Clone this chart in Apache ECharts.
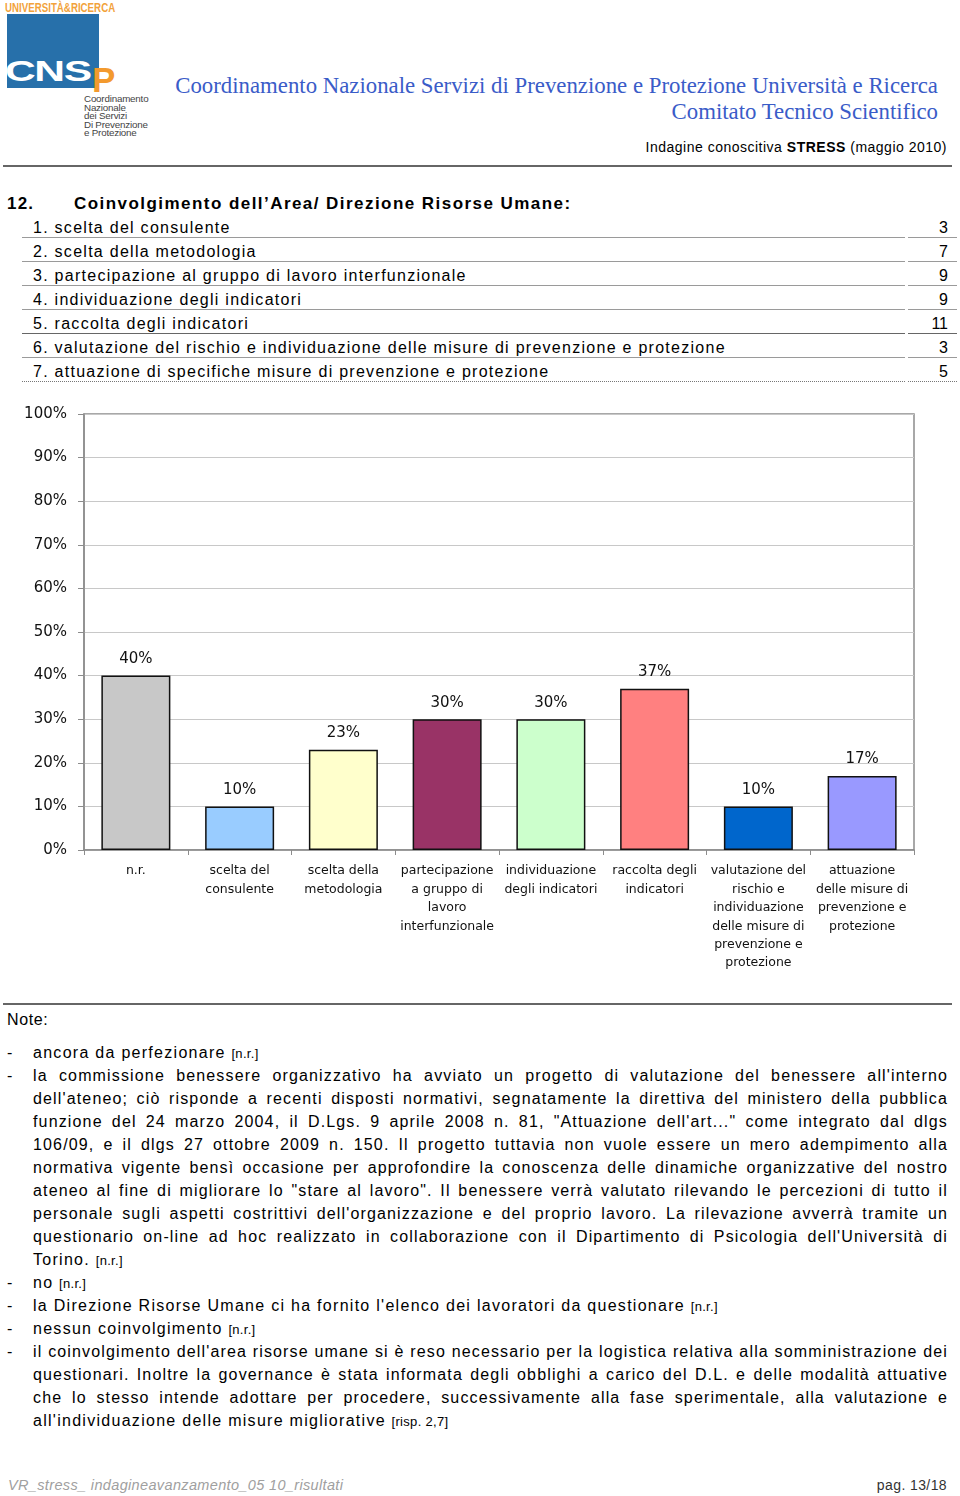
<!DOCTYPE html>
<html>
<head>
<meta charset="utf-8">
<script src="https://cdn.jsdelivr.net/npm/echarts@6/dist/echarts.min.js"></script>
<style>
  html, body { margin:0; padding:0; background:#fff; }
  body { width:960px; height:1496px; position:relative; overflow:hidden; font-family:"Liberation Sans", Arial, sans-serif; color:#000; }
  .abs { position:absolute; white-space:nowrap; }
  .hdr { font-family:"Liberation Serif", "Times New Roman", serif; color:#3a5cc8; font-size:22.8px; right:22px; line-height:26px; }
  .txt { font-size:16px; letter-spacing:1.27px; line-height:23px; }
  .ntxt { font-size:16px; letter-spacing:1.15px; line-height:23px; }
  .nlast { letter-spacing:1.28px; }
  .nr { font-size:13px; letter-spacing:0.3px; }
  .row-line { position:absolute; height:0; border-top:1.5px solid #9a9a9a; }
  .jl { text-align:justify; text-align-last:justify; width:915px; }
</style>
</head>
<body>
<!-- logo -->
<div class="abs" style="left:5px;top:1px;font-family:'Liberation Sans Narrow','Liberation Sans',sans-serif;font-weight:bold;font-size:13.5px;color:#f2a23a;line-height:14px;transform:scaleX(0.72);transform-origin:left top;">UNIVERSITÀ&amp;RICERCA</div>
<div class="abs" style="left:7px;top:14px;width:92px;height:74px;background:#2770aa;"></div>
<div class="abs" style="left:5px;top:56px;font-weight:bold;font-size:30px;line-height:30px;color:#fff;transform:scaleX(1.42);transform-origin:left top;letter-spacing:-1px;">CNS</div>
<div class="abs" style="left:92px;top:62px;font-weight:bold;font-size:35px;line-height:35px;color:#f39a2e;">P</div>
<div class="abs" style="left:84px;top:95px;font-size:9.8px;line-height:8.5px;color:#444;letter-spacing:-0.2px;">Coordinamento<br>Nazionale<br>dei Servizi<br>Di Prevenzione<br>e Protezione</div>

<div class="abs hdr" style="top:73px;">Coordinamento Nazionale Servizi di Prevenzione e Protezione Università e Ricerca</div>
<div class="abs hdr" style="top:99px;">Comitato Tecnico Scientifico</div>
<div class="abs" style="right:13px;top:139px;font-size:14px;letter-spacing:0.5px;">Indagine conoscitiva <b>STRESS</b> (maggio 2010)</div>
<div class="abs" style="left:3px;top:165px;width:949px;height:2px;background:#666;"></div>

<!-- section title -->
<div class="abs" style="left:7px;top:194px;font-size:17px;font-weight:bold;letter-spacing:1.2px;">12.</div>
<div class="abs" style="left:74px;top:194px;font-size:17px;font-weight:bold;letter-spacing:1.45px;">Coinvolgimento dell’Area/ Direzione Risorse Umane:</div>
<div id="rows"></div>

<div id="chart" style="position:absolute;left:0;top:400px;width:960px;height:590px;"></div>

<div class="abs" style="left:3px;top:1003px;width:949px;height:2px;background:#666;"></div>
<div class="abs txt" style="left:7px;top:1008px;letter-spacing:0.6px;">Note:</div>
<div id="notes"></div>

<div class="abs" style="left:8px;top:1477px;font-family:'Liberation Sans Narrow','Liberation Sans',sans-serif;font-style:italic;font-size:14.5px;letter-spacing:0.35px;color:#a0a0a0;">VR_stress_ indagineavanzamento_05 10_risultati</div>
<div class="abs" style="right:13px;top:1477px;font-family:'Liberation Sans Narrow','Liberation Sans',sans-serif;font-size:14px;letter-spacing:0.4px;color:#333;">pag. 13/18</div>

<script>
// ---- data ----
var itemLabels = [
  "1. scelta del consulente",
  "2. scelta della metodologia",
  "3. partecipazione al gruppo di lavoro interfunzionale",
  "4. individuazione degli indicatori",
  "5. raccolta degli indicatori",
  "6. valutazione del rischio e individuazione delle misure di prevenzione e protezione",
  "7. attuazione di specifiche misure di prevenzione e protezione"
];
var itemCounts = [3, 7, 9, 9, 11, 3, 5];

var categories = [
  "n.r.",
  "scelta del\nconsulente",
  "scelta della\nmetodologia",
  "partecipazione\na gruppo di\nlavoro\ninterfunzionale",
  "individuazione\ndegli indicatori",
  "raccolta degli\nindicatori",
  "valutazione del\nrischio e\nindividuazione\ndelle misure di\nprevenzione e\nprotezione",
  "attuazione\ndelle misure di\nprevenzione e\nprotezione"
];
var percentValues = [40, 10, 23, 30, 30, 37, 10, 17];
var yTicks = [0, 10, 20, 30, 40, 50, 60, 70, 80, 90, 100];

var barColors = ["#c8c8c8", "#99ccff", "#ffffcc", "#993366", "#ccffcc", "#ff8080", "#0066cc", "#9999ff"];

// ---- table rows ----
var rowsEl = document.getElementById('rows');
var html = '';
for (var i = 0; i < itemLabels.length; i++) {
  var lineY = 237 + i * 24;
  var dotted = (i === itemLabels.length - 1);
  var style = dotted ? 'border-top:1px dotted #777;' : (i === 4 ? 'border-top:1.5px solid #666;' : '');
  html += '<div class="abs txt" style="left:33px;top:' + (lineY - 21) + 'px;">' + itemLabels[i] + '</div>';
  html += '<div class="abs txt" style="right:12px;top:' + (lineY - 21) + 'px;letter-spacing:0;">' + itemCounts[i] + '</div>';
  html += '<div class="row-line" style="left:22px;width:883px;top:' + lineY + 'px;' + style + '"></div>';
  html += '<div class="row-line" style="left:908px;width:49px;top:' + lineY + 'px;' + style + '"></div>';
}
rowsEl.innerHTML = html;

// ---- notes ----
var notes = [
  { lines: ["ancora da perfezionare"], tag: "[n.r.]" },
  { lines: [
    "la commissione benessere organizzativo ha avviato un progetto di valutazione del benessere all'interno",
    "dell'ateneo; ciò risponde a recenti disposti normativi, segnatamente la direttiva del ministero della pubblica",
    "funzione del 24 marzo 2004, il D.Lgs. 9 aprile 2008 n. 81, \"Attuazione dell'art...\" come integrato dal dlgs",
    "106/09, e il dlgs 27 ottobre 2009 n. 150. Il progetto tuttavia non vuole essere un mero adempimento alla",
    "normativa vigente bensì occasione per approfondire la conoscenza delle dinamiche organizzative del nostro",
    "ateneo al fine di migliorare lo \"stare al lavoro\". Il benessere verrà valutato rilevando le percezioni di tutto il",
    "personale sugli aspetti costrittivi dell'organizzazione e del proprio lavoro. La rilevazione avverrà tramite un",
    "questionario on-line ad hoc realizzato in collaborazione con il Dipartimento di Psicologia dell'Università di",
    "Torino."
  ], tag: "[n.r.]" },
  { lines: ["no"], tag: "[n.r.]" },
  { lines: ["la Direzione Risorse Umane ci ha fornito l'elenco dei lavoratori da questionare"], tag: "[n.r.]" },
  { lines: ["nessun coinvolgimento"], tag: "[n.r.]" },
  { lines: [
    "il coinvolgimento dell'area risorse umane si è reso necessario per la logistica relativa alla somministrazione dei",
    "questionari. Inoltre la governance è stata informata degli obblighi a carico del D.L. e delle modalità attuative",
    "che lo stesso intende adottare per procedere, successivamente alla fase sperimentale, alla valutazione e",
    "all'individuazione delle misure migliorative"
  ], tag: "[risp. 2,7]" }
];
var nEl = document.getElementById('notes');
var nh = '';
var y = 1053;
notes.forEach(function (n) {
  nh += '<div class="abs ntxt" style="left:7px;top:' + (y - 12) + 'px;">-</div>';
  n.lines.forEach(function (ln, k) {
    var last = (k === n.lines.length - 1);
    if (last) {
      nh += '<div class="abs ntxt nlast" style="left:33px;top:' + (y - 12) + 'px;">' + ln + ' <span class="nr">' + n.tag + '</span></div>';
    } else {
      nh += '<div class="abs ntxt jl" style="left:33px;top:' + (y - 12) + 'px;">' + ln + '</div>';
    }
    y += 23;
  });
});
nEl.innerHTML = nh;

// ---- chart ----
var chart = echarts.init(document.getElementById('chart'), null, { renderer: 'canvas' });
var font = '"DejaVu Sans", "Liberation Sans", sans-serif';
chart.setOption({
  animation: false,
  grid: { left: 84, top: 14, width: 830, height: 436, show: true, borderColor: '#8c8c8c', borderWidth: 1.5, backgroundColor: 'transparent' },
  xAxis: {
    type: 'category',
    data: categories,
    axisLine: { lineStyle: { color: '#8c8c8c', width: 1.5 } },
    axisTick: { show: true, alignWithLabel: false, length: 5, lineStyle: { color: '#8c8c8c' } },
    axisLabel: { interval: 0, margin: 12, color: '#111', fontFamily: font, fontSize: 12.5, lineHeight: 18.4, align: 'center' }
  },
  yAxis: {
    type: 'value',
    min: yTicks[0],
    max: yTicks[yTicks.length - 1],
    interval: 10,
    axisLine: { show: true, lineStyle: { color: '#8c8c8c', width: 1.5 } },
    axisTick: { show: true, length: 6, lineStyle: { color: '#8c8c8c' } },
    axisLabel: { margin: 17, color: '#111', fontFamily: font, fontSize: 15, formatter: '{value}%' },
    splitLine: { lineStyle: { color: '#c8c8c8', width: 1 } }
  },
  series: [{
    type: 'bar',
    data: percentValues.map(function (v, i) { return { value: v, itemStyle: { color: barColors[i] } }; }),
    barCategoryGap: '33.5%',
    itemStyle: { borderColor: '#111', borderWidth: 1.5 },
    label: { show: true, position: 'top', distance: 9, formatter: '{c}%', color: '#111', fontFamily: font, fontSize: 15 }
  }]
});
</script>
</body>
</html>
